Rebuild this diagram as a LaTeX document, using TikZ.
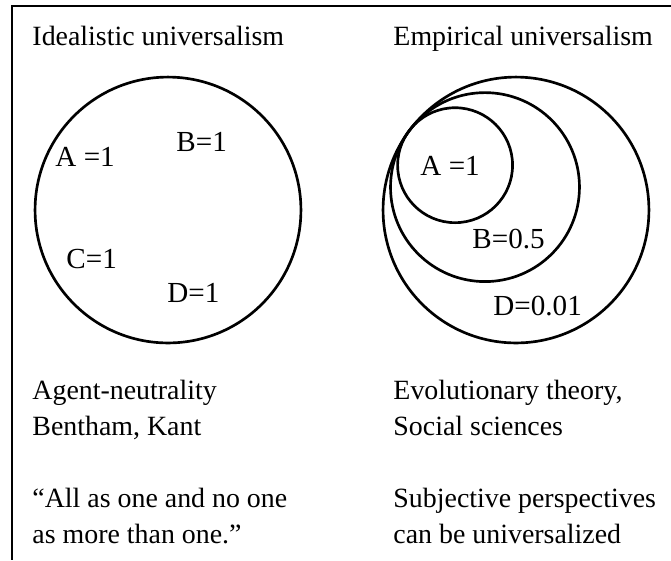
\documentclass[tikz,border=0pt]{standalone}
\usepackage{fontspec}
\setmainfont{Liberation Serif}
\usetikzlibrary{positioning}

\begin{document}
\begin{tikzpicture}[
x=0.01449cm, y=-0.01449cm,
ring/.style={
draw,
circle,
line width=1.1pt,
inner sep=0pt
},
val/.style={
anchor=base west,
inner sep=0pt,
font=\fontsize{12}{14.6}\selectfont
},
txt/.style={
anchor=base west,
inner sep=0pt,
align=left,
font=\fontsize{11.5}{14.8}\selectfont
},
boxline/.style={
line width=1.2pt
}
]

\useasboundingbox (0,0) rectangle (671,560);

\coordinate (topright) at (671,6);
\coordinate (corner) at (12,6);
\coordinate (bottomleft) at (12,560);
\draw[boxline] (topright) -- (corner) -- (bottomleft);

\node[txt] (idtitle) at (32,45) {Idealistic universalism};
\node[txt] (emtitle) at (393,45) {Empirical universalism};

\node[ring, minimum size=3.854cm] (ideal) at (168,210) {};

\node[ring, minimum size=3.854cm] (empD) at (516,210) {};
\node[ring, minimum size=2.739cm] (empB) at (485,187.1) {};
\node[ring, minimum size=1.666cm] (empA) at (455.1,165.2) {};

\node[val] (idA) at (55,166) {A =1};
\node[val] (idB) at (176,151) {B=1};
\node[val] (idC) at (66,268) {C=1};
\node[val] (idD) at (167,302) {D=1};

\node[val] (emA) at (420,175) {A =1};
\node[val] (emB) at (472,248) {B=0.5};
\node[val] (emD) at (493,315) {D=0.01};

\node[txt] (idnote) at (32,435.5)
{Agent-neutrality\\Bentham, Kant};

\node[txt] (idquote) at (32,543)
{“All as one and no one\\as more than one.”};

\node[txt] (emnote) at (393,435.5)
{Evolutionary theory,\\Social sciences};

\node[txt] (emquote) at (393,543)
{Subjective perspectives\\can be universalized};

\end{tikzpicture}
\end{document}
